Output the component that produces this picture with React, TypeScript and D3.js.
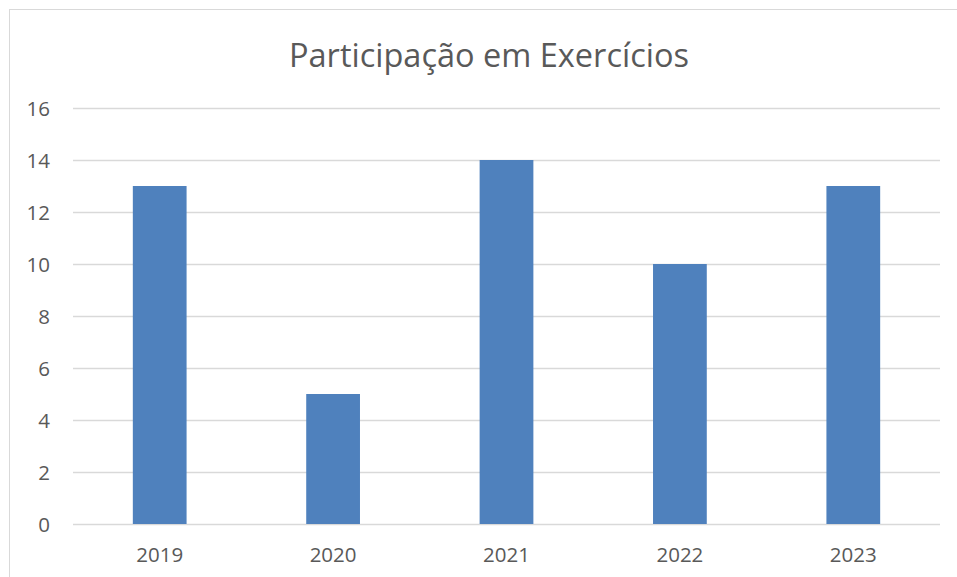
import { useEffect, useRef } from 'react';
import * as d3 from 'd3';

const TITLE = 'Participação em Exercícios';
const YEARS = ['2019', '2020', '2021', '2022', '2023'];
const VALUES = [13, 5, 14, 10, 13];
const Y_TICKS = [0, 2, 4, 6, 8, 10, 12, 14, 16];

const BAR_FILL = '#4f81bd';
const GRID = '#d9d9d9';
const INK = '#595959';
const FONT = '"Open Sans", sans-serif';

export default function App() {
  const ref = useRef<SVGSVGElement>(null);

  useEffect(() => {
    const svg = d3.select(ref.current);
    if (!svg.node()) return;
    svg.selectAll('*').remove();

    const width = 957;
    const height = 577;
    const plot = { left: 73, right: 940, top: 108, bottom: 524 };

    // chart frame, only the top and left edges fall inside the window
    svg
      .append('rect')
      .attr('x', 9.5)
      .attr('y', 9.5)
      .attr('width', width + 20)
      .attr('height', height + 20)
      .attr('fill', '#fff')
      .attr('stroke', GRID)
      .attr('stroke-width', 1);

    const x = d3
      .scaleBand()
      .domain(YEARS)
      .range([plot.left, plot.right])
      .paddingInner(0.69)
      .paddingOuter(0.345);
    const y = d3.scaleLinear().domain([0, 16]).range([plot.bottom, plot.top]);

    const g = svg.append('g');

    g.selectAll('line.grid')
      .data(Y_TICKS)
      .join('line')
      .attr('class', 'grid')
      .attr('x1', plot.left)
      .attr('x2', plot.right)
      .attr('y1', (d) => Math.round(y(d)) + 0.5)
      .attr('y2', (d) => Math.round(y(d)) + 0.5)
      .attr('stroke', GRID)
      .attr('stroke-width', 1.5);

    g.selectAll('rect.bar')
      .data(VALUES)
      .join('rect')
      .attr('class', 'bar')
      .attr('x', (_, i) => x(YEARS[i])!)
      .attr('width', x.bandwidth())
      .attr('y', (d) => y(d))
      .attr('height', (d) => y(0) - y(d))
      .attr('fill', BAR_FILL);

    g.selectAll('text.ytick')
      .data(Y_TICKS)
      .join('text')
      .attr('class', 'ytick')
      .attr('x', 50)
      .attr('y', (d) => y(d) + 7.5)
      .attr('text-anchor', 'end')
      .attr('fill', INK)
      .attr('font-family', FONT)
      .attr('font-size', 20.5)
      .text((d) => String(d));

    g.selectAll('text.xtick')
      .data(YEARS)
      .join('text')
      .attr('class', 'xtick')
      .attr('x', (d) => x(d)! + x.bandwidth() / 2)
      .attr('y', 562)
      .attr('text-anchor', 'middle')
      .attr('fill', INK)
      .attr('font-family', FONT)
      .attr('font-size', 20.5)
      .text((d) => d);

    svg
      .append('text')
      .attr('x', 489)
      .attr('y', 67)
      .attr('text-anchor', 'middle')
      .attr('fill', INK)
      .attr('font-family', FONT)
      .attr('font-size', 32.5)
      .text(TITLE);
  }, []);

  return (
    <svg
      ref={ref}
      width={957}
      height={577}
      style={{ position: 'absolute', left: 0, top: 0, display: 'block' }}
    />
  );
}
